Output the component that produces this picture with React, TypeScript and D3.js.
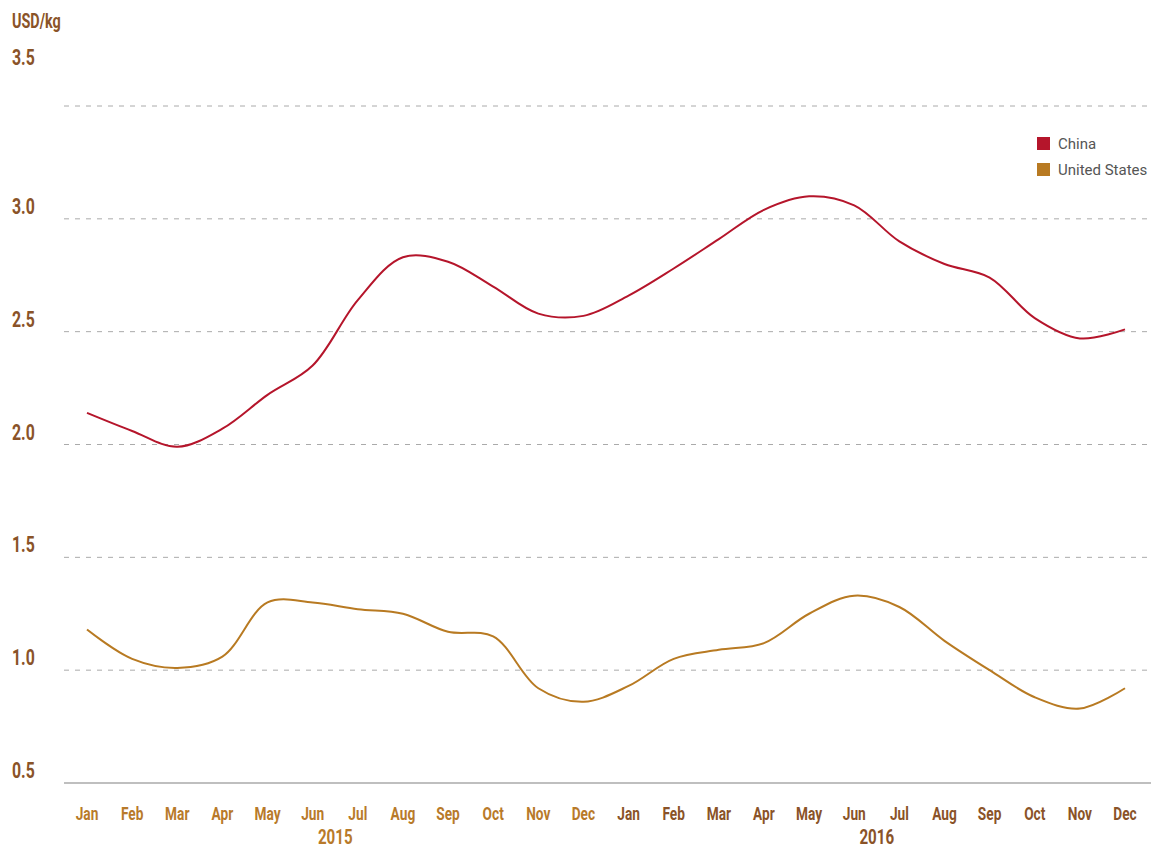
import React from 'react';
import * as d3 from 'd3';

const months = ['Jan', 'Feb', 'Mar', 'Apr', 'May', 'Jun', 'Jul', 'Aug', 'Sep', 'Oct', 'Nov', 'Dec'];
const years = ['2015', '2016'];
const china = [2.14, 2.06, 1.99, 2.07, 2.22, 2.35, 2.64, 2.83, 2.81, 2.70, 2.58, 2.57,
               2.66, 2.78, 2.91, 3.04, 3.10, 3.06, 2.90, 2.80, 2.74, 2.56, 2.47, 2.51];
const unitedStates = [1.18, 1.05, 1.01, 1.06, 1.30, 1.30, 1.27, 1.25, 1.17, 1.15, 0.92, 0.86,
                      0.93, 1.05, 1.09, 1.12, 1.25, 1.33, 1.28, 1.13, 1.00, 0.88, 0.83, 0.92];
const yTicks = [0.5, 1.0, 1.5, 2.0, 2.5, 3.0, 3.5];
const seriesNames = ['China', 'United States'];

const W = 1151, H = 850;
const yearColors = ['#b87a2a', '#8a5328'];
const lineColors = ['#b5152b', '#b87a22'];
const font = 'Roboto, sans-serif';

// condensed bold label: the reference uses a narrow gothic face
function CText({ x, y, size, fill, anchor = 'start', children }: any) {
  return (
    <text transform={`translate(${x},${y}) scale(0.72,1)`} textAnchor={anchor}
          fontFamily={font} fontWeight="bold" fontSize={size} fill={fill}>{children}</text>
  );
}

export default function App() {
  const slots = years.flatMap(y => months.map(m => `${m} ${y}`));
  const x = d3.scalePoint().domain(slots).range([87, 1125]);
  const y = d3.scaleLinear().domain([0.5, 3.5]).range([783, 106]);
  const line = d3.line<number>()
    .x((_, i) => x(slots[i]) as number)
    .y(d => y(d))
    .curve(d3.curveCatmullRom.alpha(0.5));
  const series = [china, unitedStates];

  return (
    <svg width={W} height={H} style={{ position: 'absolute', left: 0, top: 0 }}>
      <rect width={W} height={H} fill="#fff" />
      <CText x={12} y={28} size={20} fill="#8a5328">USD/kg</CText>
      {yTicks.map(t => (
        <g key={t}>
          {t > 0.5
            ? <line x1={64} x2={W} y1={y(t)} y2={y(t)} stroke="#aaa" strokeDasharray="5,6" />
            : <line x1={64} x2={W} y1={y(t)} y2={y(t)} stroke="#aaa" strokeWidth={1.5} />}
          <CText x={12} y={t === 3.5 ? 65 : y(t) - 5} size={22} fill="#8a5328">{t.toFixed(1)}</CText>
        </g>
      ))}
      {series.map((s, i) => (
        <path key={i} d={line(s) || ''} fill="none" stroke={lineColors[i]} strokeWidth={2} />
      ))}
      {slots.map((s, i) => (
        <CText key={s} x={x(s)} y={820} anchor="middle" size={19}
               fill={yearColors[Math.floor(i / 12)]}>{s.split(' ')[0]}</CText>
      ))}
      {years.map((yr, i) => {
        const cx = ((x(`Jun ${yr}`) as number) + (x(`Jul ${yr}`) as number)) / 2;
        return <CText key={yr} x={cx} y={844} anchor="middle" size={21} fill={yearColors[i]}>{yr}</CText>;
      })}
      {seriesNames.map((n, i) => (
        <g key={n} transform={`translate(1037, ${137 + i * 26})`}>
          <rect width={13} height={13} fill={lineColors[i]} />
          <text x={21} y={12} fontFamily="Roboto, sans-serif" fontSize={15} fill="#555">{n}</text>
        </g>
      ))}
    </svg>
  );
}
